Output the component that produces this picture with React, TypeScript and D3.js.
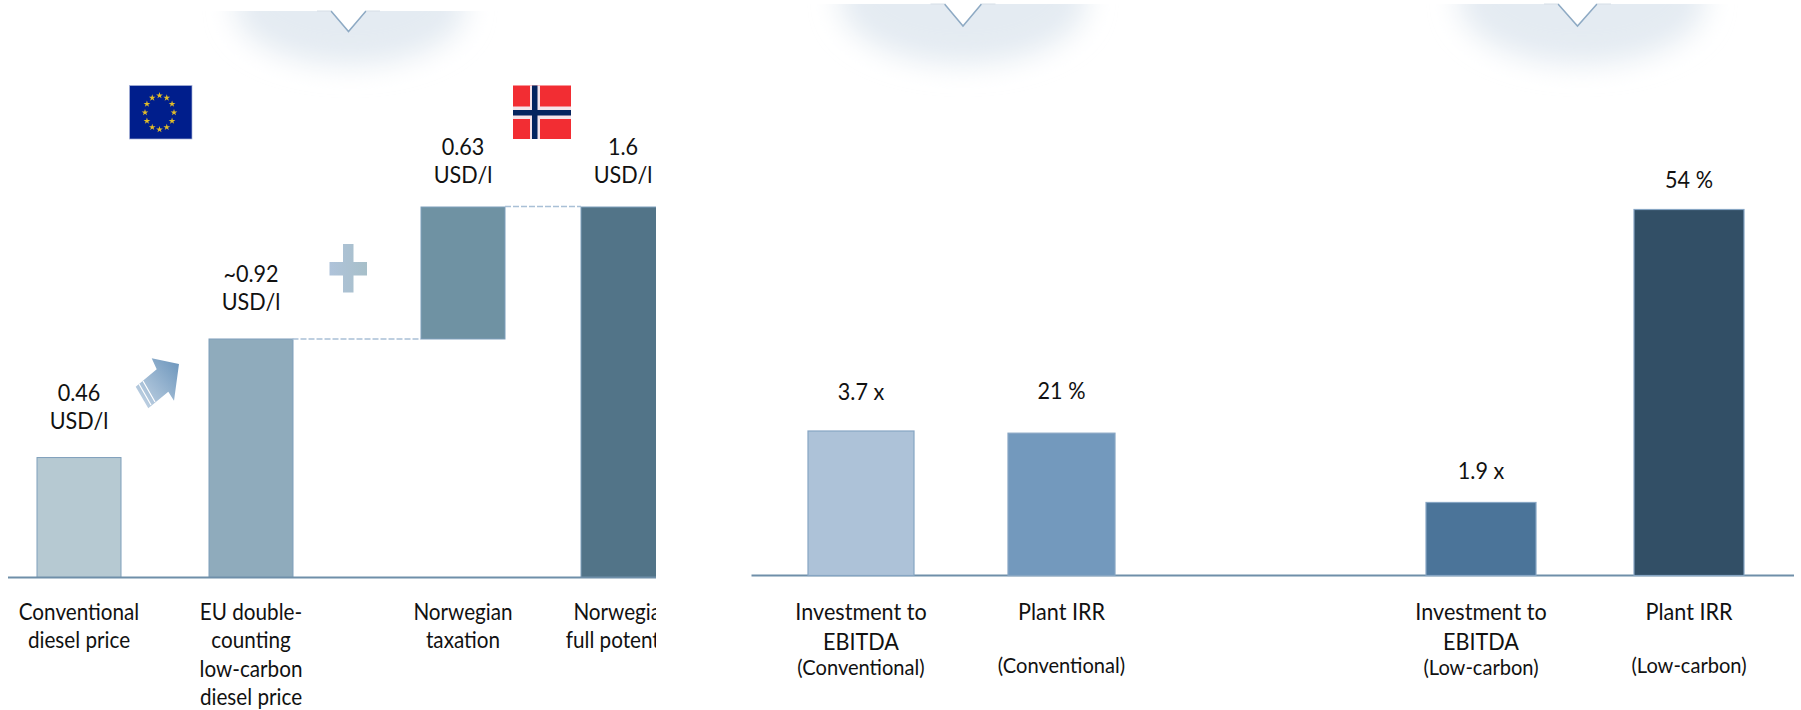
import React from "react";
import * as d3 from "d3";

const W = 1801, H = 710;
const FONT = "Lato, sans-serif";

// ---- left panel data
const leftCats = ["conv", "eu", "tax", "full"];
const leftLabels = [["Conventional", "diesel price"], ["EU double-", "counting", "low-carbon", "diesel price"], ["Norwegian", "taxation"], ["Norwegian", "full potential"]];
const leftValueLabels = [["0.46", "USD/l"], ["~0.92", "USD/l"], ["0.63", "USD/l"], ["1.6", "USD/l"]];
// heights as drawn in the picture (not to scale with the printed labels)
const leftBase = [0, 0, 1.03, 0];
const leftTop = [0.518, 1.03, 1.6, 1.6];
const leftFill = ["#b6c9d2", "#8fabbc", "#6f92a3", "#527488"];

// ---- right panel data
const rightCats = ["invConv", "irrConv", "invLow", "irrLow"];
const rightUnits = ["x", "%", "x", "%"];
const rightValues = [3.7, 21, 1.87, 54];
const rightValueLabels = ["3.7 x", "21 %", "1.9 x", "54 %"];
const rightLabels = [["Investment to", "EBITDA"], ["Plant IRR"], ["Investment to", "EBITDA"], ["Plant IRR"]];
const rightSub = ["(Conventional)", "(Conventional)", "(Low-carbon)", "(Low-carbon)"];
const rightFill = ["#adc2d8", "#7399bd", "#4b7499", "#324f66"];

// ---- layout
const leftBaseY = 577.5, rightBaseY = 575.5;
const yLeft = d3.scaleLinear().domain([0, 1.6]).range([leftBaseY, 207]);
const yMult = d3.scaleLinear().domain([0, 3.7]).range([rightBaseY, 431]);
const yPct = d3.scaleLinear().domain([0, 54]).range([rightBaseY, 209.5]);
const xLeftCenters = d3.scaleOrdinal<string, number>().domain(leftCats).range([79, 251, 463, 623]);
const xRightCenters = d3.scaleOrdinal<string, number>().domain(rightCats).range([861, 1061.5, 1481, 1689]);
const leftBarW = 84;
const rightBarWs = [106, 107, 110, 110];
const leftLabelGap = [57, 57, 52, 52];
const rightLabelGap = [31, 34, 23, 22];

const glows = [
  { cx: 350, top: 11, rx: 116, ry: 58, vx: 348.5, vy: 31.5, vw: 17.5 },
  { cx: 963, top: 4, rx: 124, ry: 64, vx: 963, vy: 26, vw: 18.5 },
  { cx: 1582, top: 4, rx: 124, ry: 64, vx: 1577.5, vy: 26, vw: 19.5 },
];

const TXT_LEFT = 0.88, TXT_RIGHT = 0.92, TXT_SUB = 0.98, SIZE = 23.5, SIZE_SUB = 20.5;

function Txt({ x, y, size = SIZE, children, sx = TXT_RIGHT }: any) {
  return (
    <text transform={`translate(${x},${y}) scale(${sx},1)`} textAnchor="middle" fontFamily={FONT} fontSize={size} fill="#111">
      {children}
    </text>
  );
}

const euStars = d3.range(12).map((i) => (i * Math.PI * 2) / 12);
const starPath = d3.symbol().type(d3.symbolStar).size(14)() as string;

export default function App() {
  return (
    <svg width={W} height={H} style={{ position: "absolute", left: 0, top: 0, background: "#fff" }}>
      <defs>
        <filter id="glowBlur" x="-40%" y="-60%" width="180%" height="220%">
          <feGaussianBlur stdDeviation="14" />
        </filter>
        <linearGradient id="arrowGrad" x1="0" y1="1" x2="1" y2="0">
          <stop offset="0%" stopColor="#c9d8e7" />
          <stop offset="100%" stopColor="#6a94bb" />
        </linearGradient>
        <linearGradient id="plusGrad" x1="0" x2="1" y1="0" y2="0">
          <stop offset="0%" stopColor="#afc3da" />
          <stop offset="100%" stopColor="#a7bfc9" />
        </linearGradient>
        <clipPath id="leftClip"><rect x="0" y="0" width="656" height={H} /></clipPath>
      </defs>

      {glows.map((g, i) => (
        <g key={i}>
          <clipPath id={`glowClip${i}`}><rect x={g.cx - 200} y={g.top} width={400} height={120} /></clipPath>
          <g clipPath={`url(#glowClip${i})`}>
            <ellipse cx={g.cx} cy={g.top - 4} rx={g.rx} ry={g.ry} fill="#e4ebf2" filter="url(#glowBlur)" />
          </g>
          <path
            d={`M${g.vx - g.vw},${g.top} L${g.vx},${g.vy} L${g.vx + g.vw},${g.top}`}
            fill="#fff" stroke="#8eaac4" strokeWidth={1.5}
          />
          <path d={`M${g.vx - g.vw - 14},${g.top} H${g.vx - g.vw} M${g.vx + g.vw},${g.top} H${g.vx + g.vw + 14}`} stroke="#d5dee6" strokeWidth={1} />
        </g>
      ))}

      {/* EU flag */}
      <rect x={129.5} y={85.5} width={62.5} height={53.5} fill="#001e8c" stroke="#a9b4d8" strokeWidth={0.7} />
      {euStars.map((a, i) => (
        <path key={i} d={starPath} fill="#e2bd28" transform={`translate(${159.5 + 14.5 * Math.sin(a)},${112.5 - 17 * Math.cos(a)})`} />
      ))}

      {/* Norwegian flag */}
      <rect x={513} y={85.5} width={58} height={53.5} fill="#f22d33" />
      <rect x={530} y={85.5} width={10} height={53.5} fill="#f4e4ea" />
      <rect x={513} y={106.5} width={58} height={12.5} fill="#f4e4ea" />
      <rect x={532} y={85.5} width={5.5} height={53.5} fill="#04245f" />
      <rect x={513} y={110} width={58} height={5.5} fill="#04245f" />

      {/* left panel */}
      <g clipPath="url(#leftClip)">
        {leftCats.map((c, i) => (
          <rect key={c} x={xLeftCenters(c) - leftBarW / 2} y={yLeft(leftTop[i])} width={leftBarW} height={yLeft(leftBase[i]) - yLeft(leftTop[i])} fill={leftFill[i]} stroke="#7f9fbb" strokeWidth={1} />
        ))}
        <line x1={8} x2={656} y1={leftBaseY} y2={leftBaseY} stroke="#6f8fa9" strokeWidth={2} />
        {leftCats.map((c, i) => (
          <g key={c}>
            {leftLabels[i].map((t, j) => (
              <Txt key={j} x={xLeftCenters(c)} y={620 + j * 28.4} sx={TXT_LEFT}>{t}</Txt>
            ))}
          </g>
        ))}
        {leftCats.map((c, i) => (
          <g key={c}>
            {leftValueLabels[i].map((t, j) => (
              <Txt key={j} x={xLeftCenters(c)} y={yLeft(leftTop[i]) - leftLabelGap[i] + j * 28.4}>{t}</Txt>
            ))}
          </g>
        ))}
      </g>
      <line x1={292.5} x2={421} y1={yLeft(leftBase[2])} y2={yLeft(leftBase[2])} stroke="#a9c0d6" strokeWidth={1.3} strokeDasharray="6 2" />
      <line x1={505} x2={581} y1={yLeft(1.6) - 0.5} y2={yLeft(1.6) - 0.5} stroke="#a9c0d6" strokeWidth={1.3} strokeDasharray="6 2" />

      {/* plus */}
      <path d="M343,244 H353.5 V262 H367 V275.5 H353.5 V292.5 H343 V275.5 H329.5 V262 H343 Z" fill="url(#plusGrad)" />

      {/* arrow */}
      <path d="M179,364 L151.7,358.3 L156.7,369.3 L135.7,386.7 L148.3,408.3 L168.3,391.7 L174,400.7 Z" fill="url(#arrowGrad)" />
      <path d="M139,384 L151,405 M143,381 L155,402" stroke="#fff" strokeWidth={1.2} />

      {/* right panel */}
      <line x1={751.5} x2={1794} y1={rightBaseY} y2={rightBaseY} stroke="#6f8fa9" strokeWidth={2} />
      {rightCats.map((c, i) => {
        const y = rightUnits[i] === "x" ? yMult : yPct;
        const top = y(rightValues[i]);
        const cx = xRightCenters(c);
        const w = rightBarWs[i];
        return (
          <g key={c}>
            <rect x={cx - w / 2} y={top} width={w} height={rightBaseY - top} fill={rightFill[i]} stroke="#86a5c3" strokeWidth={1.2} />
            <Txt x={cx} y={top - rightLabelGap[i]}>{rightValueLabels[i]}</Txt>
            {rightLabels[i].map((t, j) => (
              <Txt key={j} x={cx} y={620 + j * 30}>{t}</Txt>
            ))}
            <Txt x={cx} y={rightLabels[i].length > 1 ? 675 : 672.5} size={SIZE_SUB} sx={TXT_SUB}>{rightSub[i]}</Txt>
          </g>
        );
      })}
    </svg>
  );
}
